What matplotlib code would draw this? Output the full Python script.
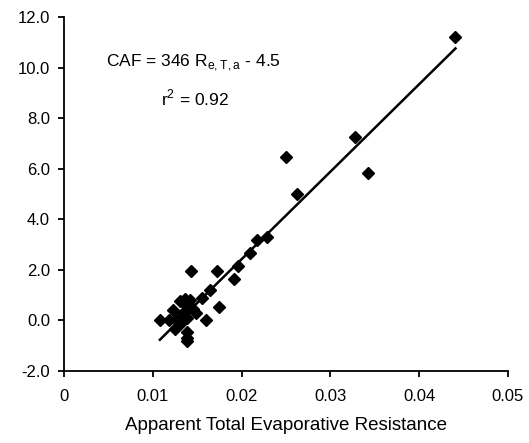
import numpy as np
import matplotlib.pyplot as plt

plt.rcParams['font.family'] = ['Liberation Sans', 'DejaVu Sans']

# Apparent total evaporative resistance vs CAF
resistance = [0.0108, 0.0118, 0.0123, 0.0125, 0.0126, 0.0128, 0.0131, 0.0132,
              0.0134, 0.0136, 0.0137, 0.0138, 0.0139, 0.0139, 0.0139, 0.0140,
              0.0142, 0.0143, 0.0145, 0.0149, 0.0155, 0.0160, 0.0164, 0.0172,
              0.0175, 0.0192, 0.0196, 0.0209, 0.0217, 0.0229, 0.0250, 0.0263,
              0.0328, 0.0343, 0.0441]
caf = [0.0, 0.0, 0.4, -0.35, 0.0, 0.0, 0.75, -0.1,
       0.3, 0.85, 0.6, 0.1, -0.45, -0.7, -0.8, 0.5,
       0.8, 1.95, 0.45, 0.3, 0.9, 0.0, 1.2, 1.95,
       0.55, 1.65, 2.15, 2.65, 3.2, 3.3, 6.45, 5.0,
       7.25, 5.85, 11.2]

# regression: CAF = 346 R - 4.5
slope = 346
intercept = -4.5

x_ticks = [0, 0.01, 0.02, 0.03, 0.04, 0.05]
x_labels = ['0', '0.01', '0.02', '0.03', '0.04', '0.05']
y_ticks = [-2, 0, 2, 4, 6, 8, 10, 12]

fig = plt.figure(figsize=(5.29, 4.43), dpi=100)
ax = fig.add_axes([0.121, 0.1625, 0.839, 0.799])

ax.plot(resistance, caf, 'D', color='black', markersize=6, zorder=3)
xfit = np.array([min(resistance), max(resistance)])
ax.plot(xfit, slope * xfit + intercept, color='black', linewidth=1.8)

ax.set_xlim(0, 0.05)
ax.set_ylim(-2, 12)
ax.set_xticks(x_ticks)
ax.set_xticklabels(x_labels)
ax.set_yticks(y_ticks)
ax.set_yticklabels(['%.1f' % v for v in y_ticks])
ax.spines['top'].set_visible(False)
ax.spines['right'].set_visible(False)
ax.spines['left'].set_linewidth(1.3)
ax.spines['bottom'].set_linewidth(1.3)
ax.tick_params(direction='out', length=4, width=1.3, labelsize=12, pad=6)
ax.tick_params(axis='x', pad=9)

ax.set_xlabel('Apparent Total Evaporative Resistance', fontsize=13.5, labelpad=9)

ax.text(0.0146, 10.2, r'CAF = 346 R$_{\mathregular{e,T,a}}$ - 4.5',
        ha='center', va='center', fontsize=12.5)
ax.text(0.0148, 8.8, r'r$^{\mathregular{2}}$ = 0.92',
        ha='center', va='center', fontsize=12.5)

fig.savefig('out.png', dpi=100)
